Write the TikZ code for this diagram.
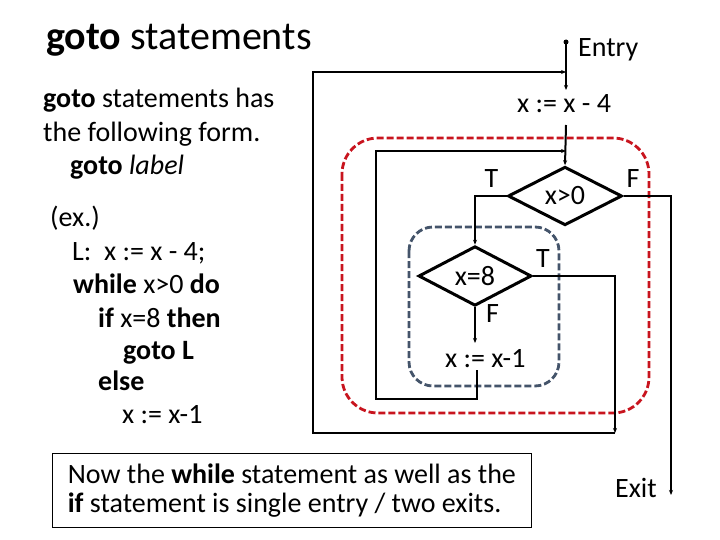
\documentclass[tikz,border=0pt]{standalone}
\usepackage{fontspec}
\setmainfont{Carlito}
\usepackage{tikz}
\usetikzlibrary{calc}
\usetikzlibrary{positioning}
\usetikzlibrary{shapes.geometric}
\usetikzlibrary{arrows.meta}

\definecolor{loopred}{RGB}{200,20,30}
\definecolor{ifblue}{RGB}{68,84,106}

\tikzset{
  txt/.style={inner sep=0pt,anchor=base west},
  cond/.style={diamond,draw,line width=3pt,inner sep=0pt},
  flow/.style={line width=1.2pt,-{Stealth[length=5pt,width=4pt]}},
  mainflow/.style={flow,line width=2pt},
}

\begin{document}
\begin{tikzpicture}[x=1pt,y=-1pt,font=\fontsize{28}{34}\selectfont]
\useasboundingbox[fill=white] (0,0) rectangle (720,540);

\node[txt] (title) at (46,50) {\fontsize{40}{48}\selectfont\textbf{goto} statements};

\node[txt] (intro1) at (43,108) {\textbf{goto} statements has};
\node[txt] (intro2) at (43,142) {the following form.};
\node[txt] (form) at (70,175) {\textbf{goto} \textit{label}};
\node[txt] (ex) at (50,226) {(ex.)};
\node[txt] (code1) at (72,260) {L:\ \ x := x - 4;};
\node[txt] (code2) at (73,293) {\textbf{while} x>0 \textbf{do}};
\node[txt] (code3) at (98,327) {\textbf{if} x=8 \textbf{then}};
\node[txt] (code4) at (123,359) {\textbf{goto L}};
\node[txt] (code5) at (98,390) {\textbf{else}};
\node[txt] (code6) at (122,423) {x := x-1};

\draw[loopred,line width=2.8pt,dash pattern=on 7pt off 3pt,rounded corners=36pt] (342,138) rectangle (649,413);
\draw[ifblue,line width=2.8pt,dash pattern=on 7pt off 3pt,rounded corners=24pt] (409,227) rectangle (559,386);

\coordinate (entrydot) at (566,42);
\coordinate (assignin) at (566,90);
\coordinate (assignout) at (566,125);
\coordinate (gotojoin) at (566,72);
\coordinate (gototop) at (313,72);
\coordinate (gotocorner) at (615,433);
\coordinate (whilejoin) at (566,151);
\coordinate (loopcorner) at (376,399);
\coordinate (decin) at (475,343);
\coordinate (decout) at (477,370);
\coordinate (exitend) at (671,495);

\node[txt] (entry) at (578,57) {Entry};
\node[txt] (assign) at (517,113) {x := x - 4};
\node[cond,minimum width=114pt,minimum height=56pt] (whilecond) at (565,196) {x>0};
\node[cond,minimum width=113pt,minimum height=57pt] (ifcond) at (475,276) {x=8};
\node[txt] (dec) at (445,367) {x := x-1};
\node[txt] (exit) at (615,497) {Exit};

\node[inner sep=0pt,anchor=south east,above left=8pt and 8pt of whilecond.west] (whileT) {T};
\node[inner sep=0pt,anchor=south west,above right=8pt and 3pt of whilecond.east] (whileF) {F};
\node[inner sep=0pt,anchor=south west,above right=8pt and 3pt of ifcond.east] (ifT) {T};
\node[inner sep=0pt,anchor=north west,below right=-3pt and 11pt of ifcond.south] (ifF) {F};

\fill (entrydot) circle (2.5pt);
\draw[mainflow] (entrydot) -- (assignin);
\draw[mainflow] (assignout) -- (whilecond.north);
\draw[mainflow] (whilecond.west) -| (ifcond.north);
\draw[mainflow] (ifcond.south) -- (decin);
\draw[flow] (ifcond.east) -| (gotocorner);
\draw[flow] (gotocorner) -| (gototop) -- (gotojoin);
\draw[flow] (decout) |- (loopcorner) |- (whilejoin);
\draw[mainflow] (whilecond.east) -| (exitend);

\node[draw,line width=0.8pt,anchor=north west,minimum width=479pt,minimum height=74pt,align=left,font=\fontsize{28}{29}\selectfont] (note) at (52,453) {Now the \textbf{while} statement as well as the\\\textbf{if} statement is single entry / two exits.};
\end{tikzpicture}
\end{document}
